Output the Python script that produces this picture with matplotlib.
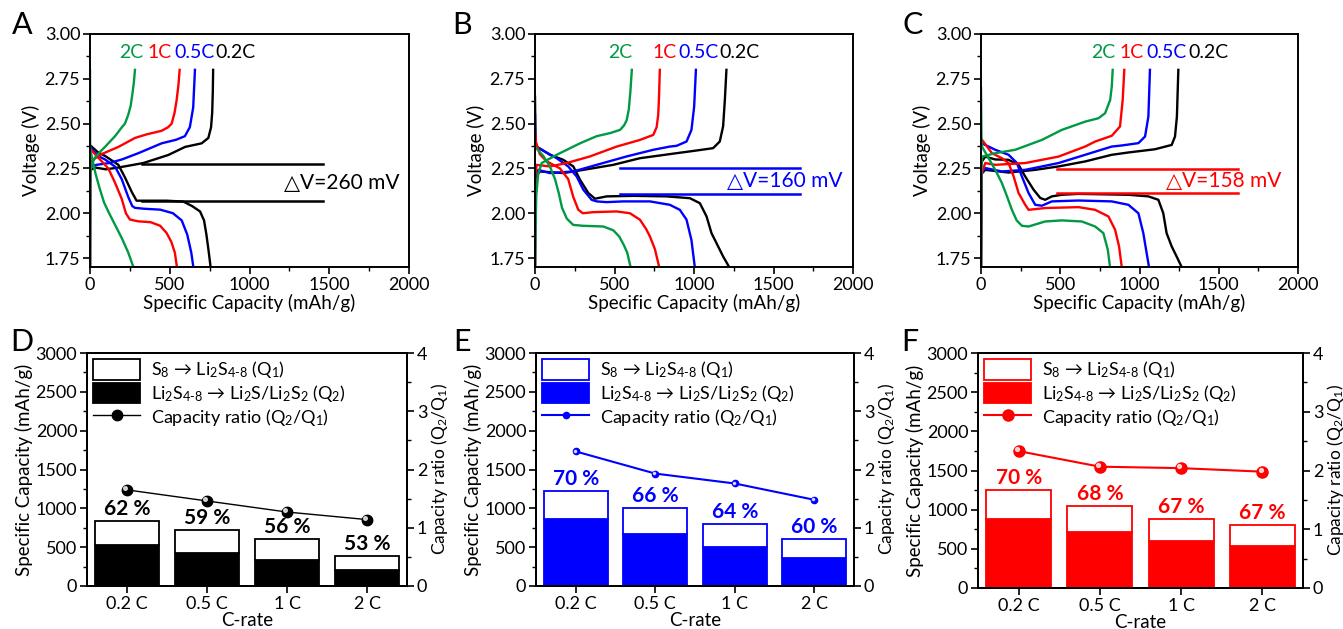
import matplotlib
matplotlib.use('Agg')
import matplotlib.pyplot as plt
from matplotlib.ticker import MultipleLocator, FormatStrFormatter
from matplotlib.patches import Patch
from matplotlib.lines import Line2D
from matplotlib.transforms import offset_copy

plt.rcParams['font.family'] = ['Lato', 'DejaVu Sans']
plt.rcParams['mathtext.fontset'] = 'custom'
plt.rcParams['mathtext.rm'] = 'Lato'
plt.rcParams['mathtext.it'] = 'Lato:italic'
plt.rcParams['mathtext.bf'] = 'Lato:bold'

GREEN = '#009a44'
RED = '#ff0000'
BLUE = '#0000ff'
BLACK = '#000000'

rates = ['2C', '1C', '0.5C', '0.2C']
rate_colors = [GREEN, RED, BLUE, BLACK]

# ---------------- Panel A (capacity mAh/g, voltage V) ----------------
A_dis_2C = [(0, 2.80), (1, 2.36), (15, 2.30), (35, 2.22), (60, 2.14), (88, 2.06), (120, 2.00),
            (160, 1.93), (200, 1.86), (240, 1.78), (272, 1.70)]
A_chg_2C = [(0, 1.70), (1, 2.22), (10, 2.27), (31, 2.31), (60, 2.34), (94, 2.37), (157, 2.43),
            (200, 2.48), (219, 2.50), (240, 2.55), (255, 2.60), (265, 2.66), (275, 2.73), (282, 2.80)]
A_dis_1C = [(0, 2.36), (52, 2.31), (115, 2.25), (157, 2.17), (199, 2.08), (225, 2.00), (250, 1.965),
            (300, 1.955), (380, 1.95), (440, 1.93), (480, 1.89), (510, 1.84), (532, 1.78), (545, 1.70)]
A_chg_1C = [(0, 1.70), (1, 2.25), (5, 2.29), (73, 2.33), (178, 2.37), (282, 2.42), (355, 2.44),
            (449, 2.46), (490, 2.48), (512, 2.50), (530, 2.56), (543, 2.63), (555, 2.72), (562, 2.80)]
A_dis_05C = [(0, 2.37), (50, 2.32), (94, 2.30), (157, 2.26), (199, 2.19), (240, 2.09), (265, 2.04),
             (282, 2.03), (340, 2.025), (440, 2.02), (520, 2.00), (575, 1.96), (610, 1.88), (635, 1.78),
             (648, 1.70)]
A_chg_05C = [(0, 1.70), (1, 2.26), (40, 2.27), (120, 2.28), (200, 2.30), (303, 2.335), (449, 2.39),
             (540, 2.41), (595, 2.43), (626, 2.48), (647, 2.59), (658, 2.80)]
A_dis_02C = [(0, 2.38), (50, 2.34), (94, 2.32), (178, 2.27), (219, 2.20), (261, 2.12), (292, 2.07),
             (334, 2.07), (480, 2.07), (585, 2.065), (640, 2.04), (690, 2.01), (715, 1.96), (730, 1.88),
             (745, 1.78), (756, 1.70)]
A_chg_02C = [(0, 1.70), (1, 2.24), (31, 2.255), (100, 2.245), (178, 2.255), (334, 2.28), (491, 2.325),
             (596, 2.37), (700, 2.39), (742, 2.42), (759, 2.48), (766, 2.56), (770, 2.68), (772, 2.80)]
A_dv_cap = [324, 1461]
A_dv_high = 2.274
A_dv_low = 2.068
A_dv_text = '\u25b3V=260 mV'
A_dv_text_cap = 1576

# ---------------- Panel B ----------------
B_dis_2C = [(0, 2.37), (52, 2.32), (94, 2.26), (126, 2.19), (150, 2.11), (170, 2.03), (200, 1.97),
            (240, 1.935), (300, 1.93), (429, 1.926), (492, 1.905), (530, 1.87), (560, 1.82), (580, 1.78),
            (601, 1.70)]
B_chg_2C = [(0, 1.70), (3, 1.90), (8, 2.10), (20, 2.22), (42, 2.28), (136, 2.326), (283, 2.39),
            (388, 2.43), (472, 2.447), (535, 2.465), (560, 2.49), (577, 2.52), (590, 2.58), (600, 2.68),
            (609, 2.80)]
B_dis_1C = [(0, 2.45), (5, 2.40), (30, 2.33), (73, 2.29), (157, 2.25), (209, 2.19), (241, 2.09),
            (272, 2.02), (300, 2.00), (367, 2.006), (513, 2.01), (597, 2.00), (660, 1.964), (700, 1.91),
            (723, 1.87), (754, 1.80), (781, 1.70)]
B_chg_1C = [(0, 1.70), (1, 2.20), (10, 2.27), (94, 2.261), (199, 2.28), (346, 2.317), (514, 2.372),
            (660, 2.409), (744, 2.437), (765, 2.48), (775, 2.55), (780, 2.65), (785, 2.80)]
B_dis_05C = [(0, 2.55), (2, 2.40), (10, 2.37), (136, 2.307), (209, 2.261), (262, 2.205), (304, 2.131),
             (356, 2.075), (388, 2.066), (450, 2.062), (555, 2.066), (723, 2.066), (848, 2.047),
             (911, 2.019), (953, 1.964), (984, 1.85), (1005, 1.70)]
B_chg_05C = [(0, 1.70), (2, 2.20), (21, 2.242), (94, 2.224), (241, 2.233), (388, 2.27), (577, 2.317),
             (744, 2.354), (849, 2.372), (890, 2.376), (953, 2.40), (984, 2.465), (1001, 2.595),
             (1012, 2.80)]
B_dis_02C = [(0, 2.65), (3, 2.40), (10, 2.372), (94, 2.326), (178, 2.298), (241, 2.261), (283, 2.187),
             (335, 2.113), (377, 2.081), (451, 2.094), (618, 2.097), (827, 2.094), (974, 2.084),
             (1037, 2.056), (1079, 1.982), (1110, 1.889), (1141, 1.834), (1183, 1.759), (1221, 1.70)]
B_chg_02C = [(0, 1.70), (2, 2.20), (31, 2.233), (178, 2.224), (304, 2.242), (492, 2.27), (660, 2.307),
             (849, 2.33), (1016, 2.35), (1120, 2.363), (1162, 2.40), (1183, 2.484), (1194, 2.632),
             (1204, 2.80)]
B_dv_cap = [534, 1669]
B_dv_high = 2.251
B_dv_low = 2.108
B_dv_text = '\u25b3V=160 mV'
B_dv_text_cap = 1572

# ---------------- Panel C ----------------
C_dis_2C = [(0, 2.70), (3, 2.40), (6, 2.372), (48, 2.307), (90, 2.242), (132, 2.168), (164, 2.094),
            (195, 2.019), (225, 1.96), (258, 1.93), (300, 1.926), (405, 1.954), (510, 1.96), (636, 1.954),
            (720, 1.926), (772, 1.889), (800, 1.796), (814, 1.70)]
C_chg_2C = [(0, 1.70), (3, 2.25), (6, 2.316), (90, 2.335), (216, 2.354), (384, 2.409), (510, 2.465),
            (657, 2.511), (741, 2.53), (783, 2.558), (815, 2.632), (825, 2.707), (831, 2.80)]
C_dis_1C = [(0, 2.42), (6, 2.41), (69, 2.335), (132, 2.307), (174, 2.28), (206, 2.205), (237, 2.113),
            (279, 2.047), (300, 2.019), (405, 2.029), (615, 2.034), (720, 2.019), (804, 1.982),
            (846, 1.908), (871, 1.815), (888, 1.70)]
C_chg_1C = [(0, 1.70), (3, 2.22), (27, 2.28), (90, 2.27), (279, 2.28), (489, 2.316), (657, 2.372),
            (720, 2.40), (825, 2.432), (877, 2.484), (894, 2.632), (904, 2.80)]
C_dis_05C = [(0, 2.40), (6, 2.39), (90, 2.354), (174, 2.326), (227, 2.28), (258, 2.205), (300, 2.113),
             (342, 2.047), (384, 2.042), (447, 2.066), (615, 2.071), (825, 2.066), (930, 2.047),
             (993, 2.00), (1024, 1.889), (1045, 1.778), (1060, 1.70)]
C_chg_05C = [(0, 1.70), (3, 2.22), (27, 2.252), (132, 2.233), (279, 2.242), (489, 2.28), (657, 2.326),
             (825, 2.372), (888, 2.378), (993, 2.391), (1035, 2.428), (1056, 2.539), (1066, 2.80)]
C_dis_02C = [(0, 2.25), (6, 2.289), (27, 2.316), (90, 2.30), (174, 2.298), (237, 2.27), (279, 2.205),
             (332, 2.131), (374, 2.085), (405, 2.075), (447, 2.094), (510, 2.103), (615, 2.108),
             (930, 2.103), (1056, 2.094), (1119, 2.075), (1150, 2.00), (1171, 1.889), (1203, 1.815),
             (1234, 1.759), (1266, 1.70)]
C_chg_02C = [(0, 1.70), (3, 2.22), (27, 2.242), (174, 2.227), (342, 2.242), (489, 2.261), (657, 2.289),
             (825, 2.326), (930, 2.339), (1098, 2.357), (1203, 2.381), (1224, 2.428), (1236, 2.539),
             (1245, 2.80)]
C_dv_cap = [478, 1622]
C_dv_high = 2.248
C_dv_low = 2.112
C_dv_text = '\u25b3V=158 mV'
C_dv_text_cap = 1529

# rate label positions (capacity at which each coloured label is centred)
A_label_cap = [261, 434, 653, 912]
B_label_cap = [534, 817, 1026, 1288]
C_label_cap = [772, 951, 1171, 1433]

# ---------------- Bar panels D, E, F ----------------
c_rates = ['0.2 C', '0.5 C', '1 C', '2 C']
D_q2 = [523, 420, 334, 212]
D_q1 = [312, 300, 266, 178]
D_ratio = [1.65, 1.46, 1.27, 1.14]
D_pct = ['62 %', '59 %', '56 %', '53 %']

E_q2 = [857, 668, 506, 356]
E_q1 = [364, 335, 287, 244]
E_ratio = [2.31, 1.93, 1.76, 1.48]
E_pct = ['70 %', '66 %', '64 %', '60 %']

F_q2 = [877, 711, 600, 536]
F_q1 = [370, 340, 285, 273]
F_ratio = [2.33, 2.065, 2.04, 1.98]
F_pct = ['70 %', '68 %', '67 %', '67 %']

# ---------------- Figure ----------------
W, H = 1343, 629
fig = plt.figure(figsize=(W / 100, H / 100), dpi=100)

TICK_FS = 13
LABEL_FS = 13.5


def rect(l, t, r, b):
    return [l / W, 1 - b / H, (r - l) / W, (b - t) / H]


def style_spines(ax):
    for s in ax.spines.values():
        s.set_linewidth(1.4)


def voltage_panel(pos, curves, label_caps, dv_cap, dv_high, dv_low, dv_text, dv_text_cap, dv_color,
                  letter, letter_xy):
    ax = fig.add_axes(rect(*pos))
    for (dis, chg), col in list(zip(curves, rate_colors))[::-1]:
        ax.plot([p[0] for p in dis], [p[1] for p in dis], color=col, lw=1.7, solid_joinstyle='round')
        ax.plot([p[0] for p in chg], [p[1] for p in chg], color=col, lw=1.7, solid_joinstyle='round')
    ax.plot(dv_cap, [dv_high, dv_high], color=dv_color, lw=1.8)
    ax.plot(dv_cap, [dv_low, dv_low], color=dv_color, lw=1.8)
    ax.text(dv_text_cap, (dv_high + dv_low) / 2, dv_text, color=dv_color, fontsize=15,
            ha='center', va='center')
    for r, c, xc in zip(rates, rate_colors, label_caps):
        ax.text(xc, 2.895, r, color=c, fontsize=14, ha='center', va='center')
    ax.set_xlim(0, 2000)
    ax.set_ylim(1.70, 3.00)
    ax.xaxis.set_major_locator(MultipleLocator(500))
    ax.xaxis.set_minor_locator(MultipleLocator(250))
    ax.yaxis.set_major_locator(MultipleLocator(0.25))
    ax.yaxis.set_minor_locator(MultipleLocator(0.125))
    ax.yaxis.set_major_formatter(FormatStrFormatter('%.2f'))
    ax.tick_params(which='major', direction='out', length=5, width=1.2, labelsize=TICK_FS, pad=2)
    ax.tick_params(which='minor', direction='out', length=3, width=1.0)
    ax.set_xlabel('Specific Capacity (mAh/g)', fontsize=LABEL_FS, labelpad=1)
    ax.set_ylabel('Voltage (V)', fontsize=LABEL_FS, labelpad=3)
    style_spines(ax)
    fig.text(letter_xy[0] / W, 1 - letter_xy[1] / H, letter, fontsize=22, ha='center', va='center')
    return ax


voltage_panel((90, 34, 409, 267),
              [(A_dis_2C, A_chg_2C), (A_dis_1C, A_chg_1C), (A_dis_05C, A_chg_05C), (A_dis_02C, A_chg_02C)],
              A_label_cap, A_dv_cap, A_dv_high, A_dv_low, A_dv_text, A_dv_text_cap, BLACK, 'A', (22, 25))
voltage_panel((535, 34, 853, 267),
              [(B_dis_2C, B_chg_2C), (B_dis_1C, B_chg_1C), (B_dis_05C, B_chg_05C), (B_dis_02C, B_chg_02C)],
              B_label_cap, B_dv_cap, B_dv_high, B_dv_low, B_dv_text, B_dv_text_cap, BLUE, 'B', (462, 25))
voltage_panel((981, 34, 1298, 267),
              [(C_dis_2C, C_chg_2C), (C_dis_1C, C_chg_1C), (C_dis_05C, C_chg_05C), (C_dis_02C, C_chg_02C)],
              C_label_cap, C_dv_cap, C_dv_high, C_dv_low, C_dv_text, C_dv_text_cap, RED, 'C', (913, 25))


def bar_panel(pos, q2, q1, ratio, pct, col, msize, line_w, letter, letter_xy):
    ax = fig.add_axes(rect(*pos))
    x = list(range(len(c_rates)))
    ax.bar(x, q2, width=0.8, color=col, edgecolor=col, lw=1.3, zorder=2)
    ax.bar(x, q1, bottom=q2, width=0.8, facecolor='white', edgecolor=col, lw=1.3, zorder=2)
    for xi, a, b, t in zip(x, q2, q1, pct):
        ax.text(xi, a + b + 25, t, ha='center', va='bottom', fontsize=15, fontweight='bold', color=col)
    ax.set_xlim(-0.5, 3.5)
    ax.set_ylim(0, 3000)
    ax.set_xticks(x)
    ax.set_xticklabels(c_rates)
    ax.yaxis.set_major_locator(MultipleLocator(500))
    ax.yaxis.set_minor_locator(MultipleLocator(250))
    ax.tick_params(which='major', direction='out', length=5, width=1.2, labelsize=TICK_FS, pad=2)
    ax.tick_params(which='minor', direction='out', length=3, width=1.0)
    ax.set_xlabel('C-rate', fontsize=LABEL_FS, labelpad=0)
    ax.set_ylabel('Specific Capacity (mAh/g)', fontsize=LABEL_FS, labelpad=2)
    style_spines(ax)

    ax2 = ax.twinx()
    ax2.plot(x, ratio, color=col, lw=line_w, marker='o', markersize=msize, zorder=3)
    hl = offset_copy(ax2.transData, fig=fig, x=-msize * 0.15, y=msize * 0.15, units='points')
    ax2.plot(x, ratio, ls='none', marker='o', markersize=msize * 0.35, color='white', alpha=0.75,
             transform=hl, zorder=4)
    ax2.set_ylim(0, 4)
    ax2.yaxis.set_major_locator(MultipleLocator(1))
    ax2.yaxis.set_minor_locator(MultipleLocator(0.5))
    ax2.tick_params(which='major', direction='out', length=5, width=1.2, labelsize=TICK_FS, pad=2)
    ax2.tick_params(which='minor', direction='out', length=3, width=1.0)
    ax2.set_ylabel('Capacity ratio (Q$_2$/Q$_1$)', fontsize=12.5, labelpad=1)
    style_spines(ax2)

    handles = [Patch(facecolor='white', edgecolor=col, lw=1.3),
               Patch(facecolor=col, edgecolor=col, lw=1.3),
               Line2D([], [], color=col, lw=line_w, marker='o', markersize=msize)]
    labels = ['S$_8$ \u2192 Li$_2$S$_{4\u20108}$ (Q$_1$)',
              'Li$_2$S$_{4\u20108}$ \u2192 Li$_2$S/Li$_2$S$_2$ (Q$_2$)',
              'Capacity ratio (Q$_2$/Q$_1$)']
    ax2.legend(handles, labels, loc='upper left', frameon=False, fontsize=13,
               handlelength=2.6, handleheight=1.35, handletextpad=0.6, labelspacing=0.15,
               borderaxespad=0.15, borderpad=0.2)
    fig.text(letter_xy[0] / W, 1 - letter_xy[1] / H, letter, fontsize=22, ha='center', va='center')
    return ax


bar_panel((87, 353, 407, 586), D_q2, D_q1, D_ratio, D_pct, BLACK, 7.5, 1.0, 'D', (22, 342))
bar_panel((536, 353, 854, 586), E_q2, E_q1, E_ratio, E_pct, BLUE, 4.5, 1.5, 'E', (462, 342))
bar_panel((978, 353, 1303, 588), F_q2, F_q1, F_ratio, F_pct, RED, 8, 1.5, 'F', (910, 342))

fig.savefig('out.png', dpi=100)
